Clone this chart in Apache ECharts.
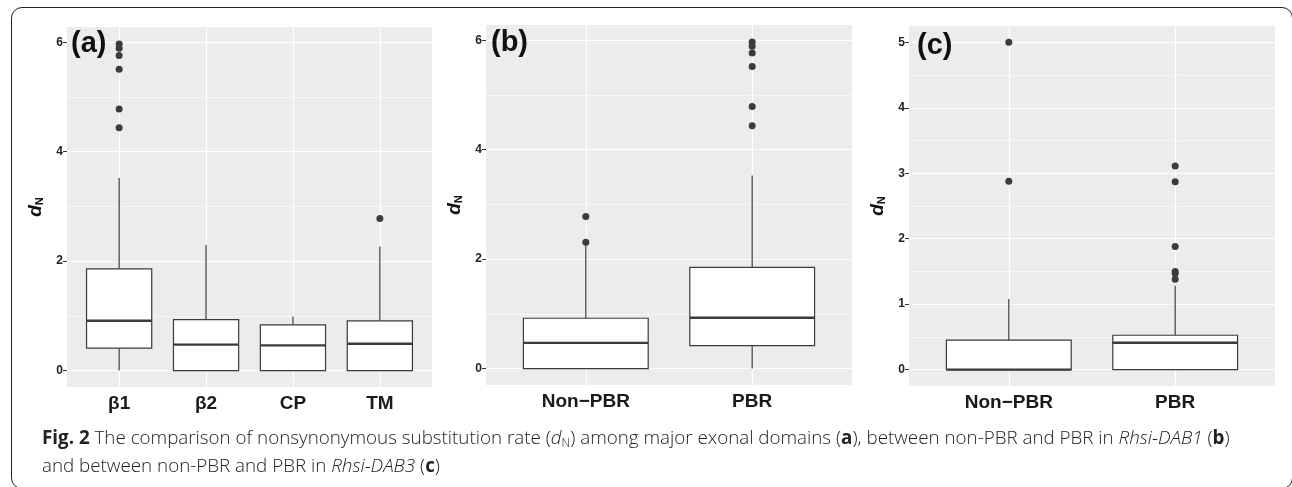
<!DOCTYPE html>
<html>
<head>
<meta charset="utf-8">
<script src="https://cdn.jsdelivr.net/npm/echarts@6/dist/echarts.min.js"></script>
<style>
  html, body { margin: 0; padding: 0; background: #fff; }
  #frame {
    position: absolute; left: 11px; top: 7px; width: 1282px; height: 482px;
    border: 1.5px solid #222; border-radius: 11px; box-sizing: border-box;
  }
  #chart { position: absolute; left: 0; top: 0; width: 1292px; height: 487px; }
  #cap {
    position: absolute; left: 42px; top: 423px; width: 1245px;
    font-family: "Open Sans", sans-serif; font-size: 18.8px; font-weight: 300; line-height: 28px; color: #222;
    white-space: nowrap;
  }
  #cap b { font-weight: 700; }
  #cap sub { font-size: 12px; vertical-align: -3px; line-height: 0; }
</style>
</head>
<body>
<div id="frame"></div>
<div id="chart"></div>
<div id="cap"><b>Fig. 2</b> The comparison of nonsynonymous substitution rate (<i>d</i><sub>N</sub>) among major exonal domains (<b>a</b>), between non-PBR and PBR in <i>Rhsi-DAB1</i> (<b>b</b>)<br>and between non-PBR and PBR in <i>Rhsi-DAB3</i> (<b>c</b>)</div>
<script>
// panel (a): exonal domains
const catsA = ['β1', 'β2', 'CP', 'TM'];
// [lower whisker, Q1, median, Q3, upper whisker]
const boxA = [
  [0, 0.41, 0.91, 1.86, 3.52],
  [0, 0, 0.475, 0.93, 2.30],
  [0, 0, 0.46, 0.835, 0.99],
  [0, 0, 0.49, 0.91, 2.27]
];
// [category position, value]
const outA = [[1, 4.44], [1, 4.78], [1, 5.51], [1, 5.76], [1, 5.89], [1, 5.97], [4, 2.78]];

// panel (b): Rhsi-DAB1
const catsB = ['Non−PBR', 'PBR'];
const boxB = [
  [0, 0, 0.47, 0.92, 2.26],
  [0, 0.42, 0.93, 1.85, 3.53]
];
const outB = [[1, 2.31], [1, 2.78], [2, 4.44], [2, 4.79], [2, 5.52], [2, 5.77], [2, 5.89], [2, 5.97]];

// panel (c): Rhsi-DAB3
const catsC = ['Non−PBR', 'PBR'];
const boxC = [
  [0, 0, 0, 0.45, 1.08],
  [0, 0, 0.41, 0.525, 1.28]
];
const outC = [[1, 2.88], [1, 5.0], [2, 1.38], [2, 1.47], [2, 1.50], [2, 1.88], [2, 2.87], [2, 3.11]];

const ticksAB = [0, 2, 4, 6];
const minorAB = [1, 3, 5];
const ticksC = [0, 1, 2, 3, 4, 5];
const minorC = [0.5, 1.5, 2.5, 3.5, 4.5];

const panels = [
  { cats: catsA, box: boxA, out: outA, ticks: ticksAB, minor: minorAB, min: -0.3, max: 6.28,
    grid: { left: 67, top: 27, width: 365, height: 360 }, tag: '(a)', tagPos: [71, 29] },
  { cats: catsB, box: boxB, out: outB, ticks: ticksAB, minor: minorAB, min: -0.3, max: 6.28,
    grid: { left: 486, top: 25, width: 366, height: 360 }, tag: '(b)', tagPos: [491, 28] },
  { cats: catsC, box: boxC, out: outC, ticks: ticksC, minor: minorC, min: -0.25, max: 5.25,
    grid: { left: 909, top: 26, width: 366, height: 360 }, tag: '(c)', tagPos: [917, 31] }
];

const ink = '#3b3b3b';
const font = 'Liberation Sans';

function renderBox(params, api) {
  const x = api.value(0);
  const lo = api.coord([x, api.value(1)]);
  const q1 = api.coord([x, api.value(2)]);
  const md = api.coord([x, api.value(3)]);
  const q3 = api.coord([x, api.value(4)]);
  const hi = api.coord([x, api.value(5)]);
  const half = api.size([0.75, 0])[0] / 2;
  const cx = lo[0];
  const line = { stroke: ink, lineWidth: 1.2 };
  return {
    type: 'group',
    children: [
      { type: 'line', shape: { x1: cx, y1: q3[1], x2: cx, y2: hi[1] }, style: line },
      { type: 'line', shape: { x1: cx, y1: q1[1], x2: cx, y2: lo[1] }, style: line },
      { type: 'rect', shape: { x: cx - half, y: q3[1], width: half * 2, height: q1[1] - q3[1] },
        style: { fill: '#fff', stroke: ink, lineWidth: 1.2 } },
      { type: 'line', shape: { x1: cx - half, y1: md[1], x2: cx + half, y2: md[1] },
        style: { stroke: ink, lineWidth: 2.4 } }
    ]
  };
}

const option = {
  animation: false,
  title: [], grid: [], xAxis: [], yAxis: [], series: []
};

panels.forEach((p, i) => {
  const pos = p.cats.map((c, k) => k + 1);
  option.title.push({
    text: p.tag, left: p.tagPos[0], top: p.tagPos[1], padding: 0,
    textStyle: { fontFamily: font, fontSize: 29, fontWeight: 'bold', color: '#111' }
  });
  option.grid.push(Object.assign({ show: true, backgroundColor: '#ececec', borderWidth: 0 }, p.grid));
  option.xAxis.push({
    type: 'value', gridIndex: i, min: 0.4, max: p.cats.length + 0.6,
    axisLine: { show: false }, splitLine: { show: false },
    axisTick: { customValues: pos, length: 4, lineStyle: { color: '#333', width: 1 } },
    axisLabel: { customValues: pos, formatter: v => p.cats[Math.round(v) - 1],
      fontFamily: font, fontSize: 19, fontWeight: 'bold', color: '#1a1a1a', margin: 7 }
  });
  option.yAxis.push({
    type: 'value', gridIndex: i, min: p.min, max: p.max,
    axisLine: { show: false }, splitLine: { show: false },
    axisTick: { customValues: p.ticks, length: 4, lineStyle: { color: '#333', width: 1 } },
    axisLabel: { customValues: p.ticks, fontFamily: font, fontSize: 12, fontWeight: 'bold',
      color: '#222', margin: 4 },
    name: '{d|d}{n|N}', nameLocation: 'middle', nameGap: 22, nameRotate: 90,
    nameTextStyle: { rich: {
      d: { fontFamily: font, fontSize: 19, fontWeight: 'bold', fontStyle: 'italic', color: '#111',
        lineHeight: 20, verticalAlign: 'bottom' },
      n: { fontFamily: font, fontSize: 11, fontWeight: 'bold', color: '#111',
        lineHeight: 10, verticalAlign: 'bottom' }
    } }
  });
  const gridLines = []
    .concat(p.ticks.map(v => ({ yAxis: v, lineStyle: { width: 1.2 } })))
    .concat(p.minor.map(v => ({ yAxis: v, lineStyle: { width: 0.6 } })))
    .concat(pos.map(v => ({ xAxis: v, lineStyle: { width: 1.2 } })));
  option.series.push({
    type: 'line', xAxisIndex: i, yAxisIndex: i, data: [], z: 1, silent: true,
    markLine: { z: 1, silent: true, symbol: ['none', 'none'], label: { show: false },
      lineStyle: { color: '#fff', type: 'solid' }, emphasis: { disabled: true }, data: gridLines }
  });
  option.series.push({
    type: 'custom', xAxisIndex: i, yAxisIndex: i, z: 3, silent: true,
    renderItem: renderBox,
    encode: { x: 0, y: [1, 2, 3, 4, 5] },
    data: p.box.map((b, k) => [k + 1].concat(b))
  });
  option.series.push({
    type: 'scatter', xAxisIndex: i, yAxisIndex: i, z: 4, silent: true,
    symbolSize: 7, itemStyle: { color: ink, opacity: 1 },
    data: p.out
  });
});

const chart = echarts.init(document.getElementById('chart'), null, { renderer: 'canvas' });
chart.setOption(option);
</script>
</body>
</html>
